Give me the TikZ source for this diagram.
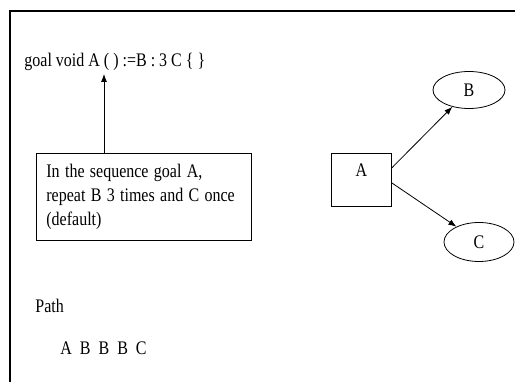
\documentclass[tikz,border=0pt]{standalone}
\usepackage{fontspec}
\setmainfont{Liberation Serif}
\usepackage{graphicx}
\usepackage{tikz}
\usetikzlibrary{shapes.geometric, positioning, arrows.meta, calc}

% taller, narrower looking text
\newcommand{\tallt}[1]{\scalebox{1}[1.2]{#1}}

\tikzset{
  txt/.style={font=\fontsize{16}{20}\selectfont, inner sep=0pt},
  notebox/.style={draw, txt, anchor=north west, text width=195pt, align=left,
    minimum height=87pt, inner xsep=10pt, inner ysep=0pt},
  goalbox/.style={draw, minimum width=60pt, minimum height=53pt},
  subgoal/.style={draw, ellipse, txt, minimum width=72pt, minimum height=37pt},
  every picture/.style={line width=0.8pt},
  >={Latex[length=8pt,width=6pt]}
}

\begin{document}
\begin{tikzpicture}[x=1pt,y=1pt]
        \useasboundingbox (0,0) rectangle (515,-382);
        % frame
        \draw[line width=1.1pt] (10,-382) -- (10,-11) -- (515,-11);

        \node[txt, anchor=base west] (code) at (24,-67) {\tallt{goal void A ( ) :=B : 3 C \{ \}}};
        \coordinate (tip) at (104,-74);
        \node[notebox] (note) at (36,-153)
          {\tallt{\begin{tabular}{@{}l@{}}In the sequence goal A,\\ repeat B 3 times and C once\\ (default)\end{tabular}}};

        \node[goalbox, anchor=north west, label={[txt, anchor=north, yshift=-10pt]north:\tallt{A}}] (A) at (331,-153) {};
        \node[subgoal] (B) at (469,-90) {\tallt{B}};
        \node[subgoal, minimum width=70pt, minimum height=39pt] (C) at (479,-242) {\tallt{C}};

        \node[txt, anchor=base west] (path) at (35,-313) {\tallt{Path}};
        \node[txt, anchor=base west] (seq) at (60,-355) {\tallt{A~~B~~B~~B~~C}};

        \draw[->] (note.north -| tip) -- (tip);
        \draw[->] ([yshift=12pt]A.east) -- (B);
        \draw[->] ([yshift=-3pt]A.east) -- (C);
\end{tikzpicture}
\end{document}
